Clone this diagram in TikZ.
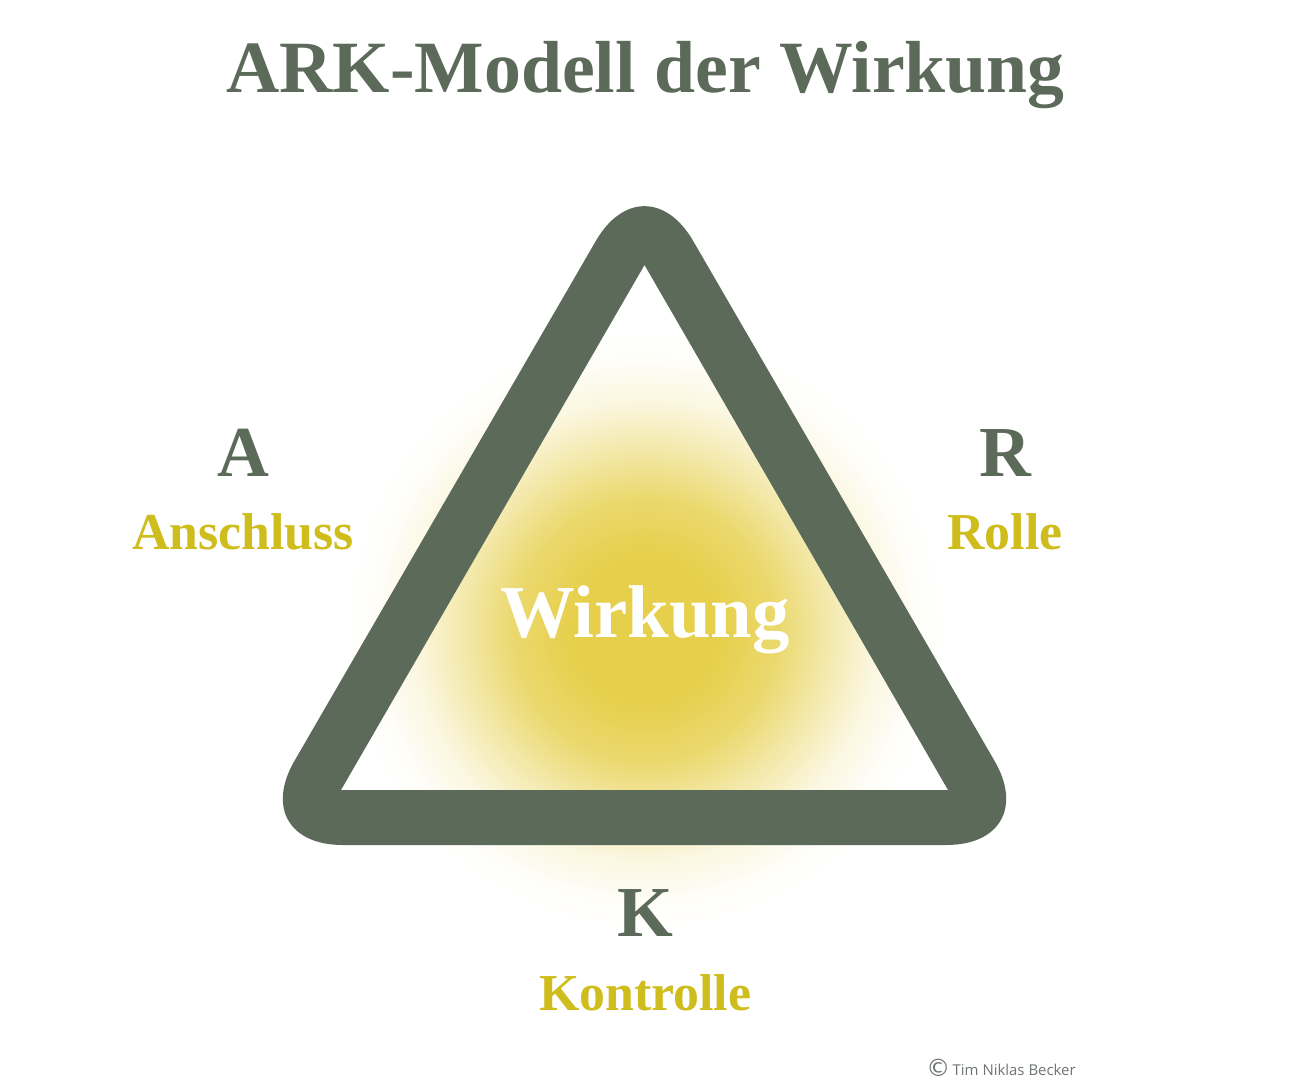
\documentclass[tikz,border=0pt]{standalone}
\usepackage{fontspec}
\setmainfont{Liberation Serif}
\newfontfamily\creditfont{Open Sans}
\newfontfamily\copyfont{DejaVu Sans}
\usetikzlibrary{calc}
\definecolor{arkgreen}{RGB}{92,106,90}
\definecolor{arkyellow}{RGB}{206,189,28}
\definecolor{glowc}{RGB}{230,207,74}
\definecolor{creditgray}{RGB}{110,118,110}
\pgfdeclareradialshading{glow}{\pgfpoint{0bp}{0bp}}{%
  color(0bp)=(glowc); color(6bp)=(glowc); color(11bp)=(glowc!80!white);
  color(15bp)=(glowc!48!white); color(19bp)=(glowc!18!white); color(22.5bp)=(glowc!4!white);
  color(25bp)=(white); color(50bp)=(white)}
\begin{document}
\begin{tikzpicture}[x={(1bp,0)}, y={(0,-1bp)},
  title/.style={font=\fontsize{74}{80}\selectfont\bfseries, text=arkgreen, anchor=base, inner sep=0pt},
  letter/.style={font=\fontsize{72}{80}\selectfont\bfseries, text=arkgreen, anchor=base, inner sep=0pt},
  word/.style={font=\fontsize{52}{60}\selectfont\bfseries, text=arkyellow, anchor=base, inner sep=0pt},
  center/.style={font=\fontsize{75}{80}\selectfont\bfseries, text=white, anchor=base, inner sep=0pt},
  credit/.style={font=\creditfont\fontsize{15}{16}\selectfont, text=creditgray, anchor=base, inner sep=0pt}]
\useasboundingbox (0,0) rectangle (1296,1080);
\fill[white] (0,0) rectangle (1296,1080);
% glow
\shade[shading=glow] (645,630) circle (300bp);
% triangle coordinates
\coordinate (oT) at (644.5,157);
\coordinate (oL) at (245.7,845);
\coordinate (oR) at (1043.3,845);
\coordinate (iT) at (644.5,265);
\coordinate (iL) at (341,790);
\coordinate (iR) at (948,790);
\fill[arkgreen, even odd rule, rounded corners=97bp]
  ($(oL)!0.5!(oR)$) -- (oR) -- (oT) -- (oL) -- cycle
  [sharp corners] (iT) -- (iR) -- (iL) -- cycle;
% texts
\node[title] (title) at (645.5,92) {ARK-Modell der Wirkung};
\node[letter] (A) at (243,476) {A};
\node[word] (Aw) at (243,549) {Anschluss};
\node[letter] (R) at (1005,476) {R};
\node[word] (Rw) at (1005,549) {Rolle};
\node[letter] (K) at (645,936) {K};
\node[word] (Kw) at (645,1010) {Kontrolle};
\node[center] (W) at (645,637) {Wirkung};
\node[credit] (cr) at (1001,1075) {\raisebox{-1.5pt}{\copyfont\fontsize{24}{24}\selectfont ©}\,Tim Niklas Becker};
\end{tikzpicture}
\end{document}
